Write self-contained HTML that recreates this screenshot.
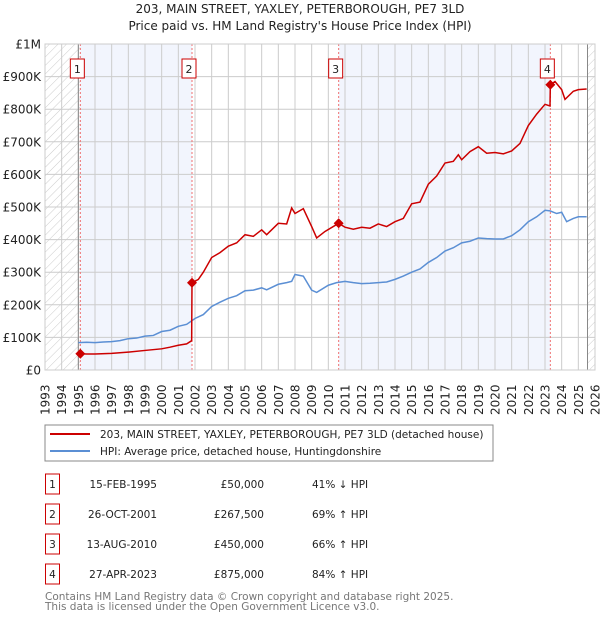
<!DOCTYPE html>
<html><head><meta charset="utf-8"><style>
body{margin:0;background:#fff;font-family:"DejaVu Sans","Liberation Sans",sans-serif;}
svg text{font-family:"DejaVu Sans","Liberation Sans",sans-serif;}
</style></head><body>
<svg id="c" width="600" height="620" xmlns="http://www.w3.org/2000/svg">
<defs><pattern id="hatch" width="6" height="6" patternUnits="userSpaceOnUse" patternTransform="rotate(45)"><line x1="0" y1="0" x2="0" y2="6" stroke="#ccc" stroke-width="1"/></pattern></defs>
<text x="300" y="13" text-anchor="middle" font-size="12" fill="#222">203, MAIN STREET, YAXLEY, PETERBOROUGH, PE7 3LD</text>
<text x="300" y="30" text-anchor="middle" font-size="12" fill="#222">Price paid vs. HM Land Registry's House Price Index (HPI)</text>
<g id="plot"></g>
<rect x="45" y="425" width="448" height="36" fill="#fff" stroke="#888"/>
<line x1="50" y1="434" x2="90" y2="434" stroke="#cc0000" stroke-width="2"/>
<text x="100" y="438" font-size="10.5" fill="#222">203, MAIN STREET, YAXLEY, PETERBOROUGH, PE7 3LD (detached house)</text>
<line x1="50" y1="451" x2="90" y2="451" stroke="#5b8fd4" stroke-width="2"/>
<text x="100" y="455" font-size="10.5" fill="#222">HPI: Average price, detached house, Huntingdonshire</text>
<g id="table" font-size="10.5" fill="#222"></g>
<text x="45" y="600" font-size="10.5" fill="#777">Contains HM Land Registry data © Crown copyright and database right 2025.</text>
<text x="45" y="610" font-size="10.5" fill="#777">This data is licensed under the Open Government Licence v3.0.</text>
</svg>
<script>
const hpiYears=[1995,1995.5,1996,1996.5,1997,1997.5,1998,1998.5,1999,1999.5,2000,2000.5,2001,2001.5,2002,2002.5,2003,2003.5,2004,2004.5,2005,2005.5,2006,2006.3,2007,2007.5,2007.8,2008,2008.5,2009,2009.3,2010,2010.5,2011,2011.5,2012,2012.5,2013,2013.5,2014,2014.5,2015,2015.5,2016,2016.5,2017,2017.5,2018,2018.5,2019,2019.5,2020,2020.5,2021,2021.5,2022,2022.5,2023,2023.3,2023.7,2024,2024.3,2024.7,2025,2025.5];
const hpiValues=[84,85,84,86,87,90,96,98,104,106,118,122,134,140,158,170,195,208,220,228,243,245,252,246,263,268,272,293,288,245,238,260,268,272,268,265,266,268,270,278,288,300,310,330,345,365,375,390,395,405,403,402,402,412,430,455,470,490,488,480,484,455,465,470,470];
const priceYears=[1995.12,1995.5,1996,1997,1998,1999,2000,2000.5,2001,2001.5,2001.8,2001.82,2002.2,2002.5,2003,2003.5,2004,2004.5,2005,2005.5,2006,2006.3,2007,2007.5,2007.8,2008,2008.5,2009,2009.3,2009.8,2010.62,2011,2011.5,2012,2012.5,2013,2013.5,2014,2014.5,2015,2015.5,2016,2016.5,2017,2017.5,2017.8,2018,2018.5,2019,2019.5,2020,2020.5,2021,2021.5,2022,2022.5,2023,2023.3,2023.32,2023.6,2024,2024.2,2024.7,2025,2025.5];
const priceValues=[50,49,49,51,55,60,65,70,76,80,90,267.5,278,300,345,360,380,390,415,410,430,415,450,448,497,480,495,440,405,425,450,438,432,438,435,448,440,455,465,510,515,570,595,635,640,660,645,670,685,665,667,663,672,695,750,785,815,810,875,885,860,830,855,860,862];
const saleYears=[1995.12,2001.82,2010.62,2023.32];
const saleValues=[50,267.5,450,875];
const saleLabels=["1","2","3","4"];
const saleDates=["15-FEB-1995","26-OCT-2001","13-AUG-2010","27-APR-2023"];
const salePrices=["£50,000","£267,500","£450,000","£875,000"];
const saleHpi=["41% ↓ HPI","69% ↑ HPI","66% ↑ HPI","84% ↑ HPI"];
const yTicks=[0,100,200,300,400,500,600,700,800,900,1000];
const yTickLabels=["£0","£100K","£200K","£300K","£400K","£500K","£600K","£700K","£800K","£900K","£1M"];
const xTicks=[];for(let y=1993;y<=2026;y++)xTicks.push(y);

const X0=45,X1=595,Y0=370,Y1=44;
const xs=y=>X0+(y-1993)*(X1-X0)/33;
const ys=v=>Y0-v*(Y0-Y1)/1000;
const NS="http://www.w3.org/2000/svg";
const plot=document.getElementById('plot');
function mk(t,a,p){const e=document.createElementNS(NS,t);for(const k in a)e.setAttribute(k,a[k]);(p||plot).appendChild(e);return e;}

let r=mk('rect',{x:xs(1993),y:Y1,width:xs(1995.12)-xs(1993),height:Y0-Y1,fill:'url(#hatch)'});


r=mk('rect',{x:xs(2025.55),y:Y1,width:X1-xs(2025.55),height:Y0-Y1,fill:'url(#hatch)'});


r=mk('rect',{x:xs(saleYears[0]),y:Y1,width:xs(saleYears[1])-xs(saleYears[0]),height:Y0-Y1,fill:'#f2f5fd'});


r=mk('rect',{x:xs(saleYears[2]),y:Y1,width:xs(saleYears[3])-xs(saleYears[2]),height:Y0-Y1,fill:'#f2f5fd'});



xTicks.forEach(y=>{
  const l=mk('line',{x1:xs(y),x2:xs(y),y1:Y1,y2:Y0,stroke:'#ccc','stroke-width':1});
  
  
  const t=mk('text',{x:0,y:0,'font-size':12,fill:'#222',transform:`translate(${xs(y)+4.5},${Y0+45}) rotate(-90)`});
  t.textContent=y;
  
  
});
yTicks.forEach((v,i)=>{
  const l=mk('line',{x1:X0,x2:X1,y1:ys(v),y2:ys(v),stroke:'#ccc','stroke-width':1});
  
  
  const t=mk('text',{x:X0-4,y:ys(v)+4.5,'font-size':12,fill:'#222','text-anchor':'end'});
  t.textContent=yTickLabels[i];
  
  
});
r=mk('line',{x1:xs(1995),x2:xs(1995),y1:Y1,y2:Y0,stroke:'#888'});


r=mk('line',{x1:xs(2025.55),x2:xs(2025.55),y1:Y1,y2:Y0,stroke:'#888'});



saleYears.forEach((y,i)=>{
  const l=mk('line',{x1:xs(y),x2:xs(y),y1:Y1,y2:Y0,stroke:'#f07070','stroke-dasharray':'2,2'});
  
  
  const b=mk('rect',{x:xs(y)-10,y:59,width:14,height:19,fill:'#fff',stroke:'#cc0000'});
  
  
  const t=mk('text',{x:xs(y)-3,y:73,'font-size':11,fill:'#222','text-anchor':'middle'});
  t.textContent=saleLabels[i];
  
  
});

const hp=mk('polyline',{points:hpiYears.map((y,i)=>xs(y)+','+ys(hpiValues[i])).join(' '),fill:'none',stroke:'#5b8fd4','stroke-width':1.5});


const pp=mk('polyline',{points:priceYears.map((y,i)=>xs(y)+','+ys(priceValues[i])).join(' '),fill:'none',stroke:'#cc0000','stroke-width':1.5});


saleYears.forEach((y,i)=>{
  const cx=xs(y),cy=ys(saleValues[i]);
  const d=mk('polygon',{points:`${cx},${cy-5} ${cx+5},${cy} ${cx},${cy+5} ${cx-5},${cy}`,fill:'#cc0000'});
  
  
});
r=mk('rect',{x:X0,y:Y1,width:X1-X0,height:Y0-Y1,fill:'none',stroke:'#ccc'});



const tb=document.getElementById('table');
saleLabels.forEach((s,i)=>{
  const cy=483+i*30;
  const b=mk('rect',{x:45.5,y:cy-9,width:14,height:20,fill:'#fff',stroke:'#cc0000'},tb);
  
  
  const cols=[[52.5,s,'middle','table-row-number'],[157,saleDates[i],'end','table-row-date'],[264,salePrices[i],'end','table-row-price'],[312,saleHpi[i],'start','table-row-hpi']];
  cols.forEach(c=>{
    const t=mk('text',{x:c[0],y:cy+5,'text-anchor':c[2]},tb);
    t.textContent=c[1];
    
    
  });
});
</script>
</body></html>
